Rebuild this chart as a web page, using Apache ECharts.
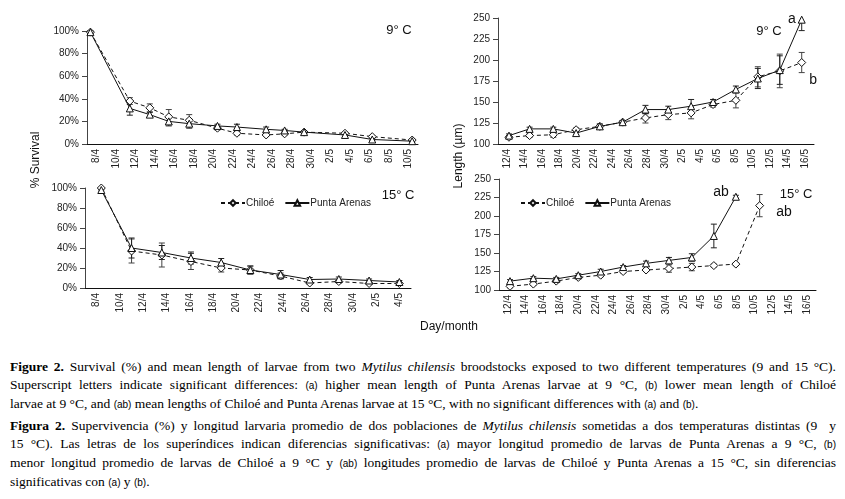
<!DOCTYPE html>
<html><head><meta charset="utf-8">
<script src="https://cdn.jsdelivr.net/npm/echarts@6/dist/echarts.min.js"></script>
<style>
html,body{margin:0;padding:0;background:#fff;width:845px;height:499px;overflow:hidden}
#chart{position:absolute;left:0;top:0;width:845px;height:345px}
#cap{position:absolute;left:10px;top:358px;width:826px;font-family:"Liberation Serif","Times New Roman",serif;font-size:13.5px;line-height:18px;color:#000}
.l{white-space:nowrap;text-align:justify;text-align-last:justify}
.last{white-space:nowrap;text-align:left}
.gap{height:3px}
.s{font-family:"Liberation Sans",Arial,sans-serif;font-size:10px}
</style></head>
<body>
<div id="chart"></div>
<div id="cap">
<div class="l"><b>Figure 2.</b> Survival (%) and mean length of larvae from two <i>Mytilus chilensis</i> broodstocks exposed to two different temperatures (9 and 15 °C).</div>
<div class="l">Superscript letters indicate significant differences: <span class="s">(a)</span> higher mean length of Punta Arenas larvae at 9 °C, <span class="s">(b)</span> lower mean length of Chiloé</div>
<div class="last">larvae at 9 °C, and <span class="s">(ab)</span> mean lengths of Chiloé and Punta Arenas larvae at 15 °C, with no significant differences with <span class="s">(a)</span> and <span class="s">(b)</span>.</div>
<div class="gap"></div>
<div class="l"><b>Figura 2.</b> Supervivencia (%) y longitud larvaria promedio de dos poblaciones de <i>Mytilus chilensis</i> sometidas a dos temperaturas distintas (9&nbsp; y</div>
<div class="l">15 °C). Las letras de los superíndices indican diferencias significativas: <span class="s">(a)</span> mayor longitud promedio de larvas de Punta Arenas a 9 °C, <span class="s">(b)</span></div>
<div class="l">menor longitud promedio de larvas de Chiloé a 9 °C y <span class="s">(ab)</span> longitudes promedio de larvas de Chiloé y Punta Arenas a 15 °C, sin diferencias</div>
<div class="last">significativas con <span class="s">(a)</span> y <span class="s">(b)</span>.</div>
</div>
<script>
// ---------- tick labels ----------
const surv9Labels = ['8/4','10/4','12/4','14/4','16/4','18/4','20/4','22/4','24/4','26/4','28/4','30/4','2/5','4/5','6/5','8/5','10/5'];
const surv15Labels = ['8/4','10/4','12/4','14/4','16/4','18/4','20/4','22/4','24/4','26/4','28/4','30/4','2/5','4/5'];
const lenLabels = ['12/4','14/4','16/4','18/4','20/4','22/4','24/4','26/4','28/4','30/4','2/5','4/5','6/5','8/5','10/5','12/5','14/5','16/5'];

// ---------- Survival 9 °C (x = days since 8/4) ----------
const surv9X = [0.35, 4.4, 6.45, 8.4, 10.5, 13.4, 15.4, 18.4, 20.3, 22.3, 26.5, 29.3, 33.4];
const surv9Chiloe = [99, 38, 32, 24, 21, 14, 9.5, 8, 9, 10.5, 9.5, 6.5, 3.5];
const surv9ChiloeErr = [1, 3, 3.5, 6.5, 5, 1.5, 1.5, 1, 1, 1, 1, 1, 1];
const surv9Punta = [99, 31.5, 26, 20, 18, 16, 15, 13, 12, 10.5, 8, 4, 2.5];
const surv9PuntaErr = [1, 6, 2, 4, 4, 1.5, 2.5, 2, 1, 1, 1.5, 1, 1];

// ---------- Survival 15 °C ----------
const surv15X = [1.4, 4.0, 6.6, 9.1, 11.7, 14.2, 16.8, 19.3, 21.8, 24.4, 27.0];
const surv15Chiloe = [100, 37, 33, 26.5, 20, 18, 12, 5, 6.5, 4.5, 4.5];
const surv15ChiloeErr = [1, 12, 12, 8, 4, 4, 3, 1.5, 1.5, 1, 1];
const surv15Punta = [98, 40, 35.5, 30, 25.5, 18, 13.5, 8.5, 9, 7.5, 6];
const surv15PuntaErr = [1, 10, 7, 6, 4, 4, 4, 2, 2, 1.5, 1.5];

// ---------- Length 9 °C (x = days since 12/4) ----------
const len9X = [1.25, 3.6, 6.3, 8.9, 11.6, 14.2, 16.8, 19.4, 22.0, 24.5, 27.1, 29.6, 32.1, 34.6];
const len9Chiloe = [108, 110, 111, 117, 121, 126, 131, 135, 137, 147, 152, 180, 187, 197];
const len9ChiloeErr = [2, 2, 3, 2, 2, 2, 6, 6, 7, 3, 9, 12, 20, 12];
const len9Punta = [110, 118, 118, 113, 121, 126, 141, 141, 145, 150, 165, 178, 188, 248];
const len9PuntaErr = [2, 2, 2, 2, 3, 2, 5, 4, 8, 3, 4, 12, 17, 13];

// ---------- Length 15 °C ----------
const len15ChiloeX = [1.25, 3.9, 6.5, 9.0, 11.55, 14.1, 16.7, 19.3, 21.9, 24.4, 26.9, 29.6];
const len15Chiloe = [105, 108, 112, 117, 120, 125, 127, 129, 131, 133, 135, 214];
const len15ChiloeErr = [2, 2, 2, 2, 2, 2, 2, 5, 5, 2, 2, 15];
const len15PuntaX = [1.25, 3.9, 6.5, 9.0, 11.55, 14.1, 16.7, 19.3, 21.9, 24.4, 26.9];
const len15Punta = [112, 116, 115, 120, 125, 131, 136, 140, 144, 173, 226];
const len15PuntaErr = [2, 2, 2, 2, 3, 2, 3, 4, 5, 16, 2];

const FONT = '"Liberation Sans", Arial, sans-serif';
const INK = '#111';

const grids = [
  {left: 87, top: 31, width: 331, height: 113},
  {left: 85, top: 188, width: 326, height: 100},
  {left: 498, top: 18, width: 316, height: 126},
  {left: 499, top: 179, width: 317, height: 111}
];
const xInfo = [
  {labels: surv9Labels, days: 34},
  {labels: surv15Labels, days: 28},
  {labels: lenLabels, days: 36},
  {labels: lenLabels, days: 36}
];
const yInfo = [
  {min: 0, max: 100, interval: 20, fmt: '{value}%'},
  {min: 0, max: 100, interval: 20, fmt: '{value}%'},
  {min: 100, max: 250, interval: 25, fmt: '{value}'},
  {min: 100, max: 250, interval: 25, fmt: '{value}'}
];

const xAxis = [], yAxis = [];
xInfo.forEach((xi, i) => {
  xAxis.push({
    type: 'category', gridIndex: i, data: xi.labels, boundaryGap: true,
    axisLine: {lineStyle: {color: INK, width: 1}},
    axisTick: {interval: 0, length: 4, alignWithLabel: false, lineStyle: {color: INK}},
    axisLabel: {interval: 0, rotate: 90, fontSize: 10, fontFamily: FONT, color: '#222', margin: 5}
  });
  xAxis.push({type: 'value', gridIndex: i, min: 0, max: xi.days, show: false});
});
yInfo.forEach((yi, i) => {
  yAxis.push({
    type: 'value', gridIndex: i, min: yi.min, max: yi.max, interval: yi.interval,
    axisLine: {show: true, lineStyle: {color: '#444'}},
    axisTick: {show: true, length: 5, lineStyle: {color: '#444'}},
    splitLine: {show: false},
    axisLabel: {formatter: yi.fmt, fontSize: 10, fontFamily: FONT, color: '#222', margin: 8}
  });
});

function errRender(params, api) {
  const x = api.value(0), lo = api.value(1), hi = api.value(2);
  const p1 = api.coord([x, hi]), p2 = api.coord([x, lo]);
  const cs = params.coordSys;
  const top = cs.y, bottom = cs.y + cs.height;
  const y1 = Math.max(p1[1], top), y2 = Math.min(p2[1], bottom);
  const w = 3;
  const style = {stroke: api.visual('color'), lineWidth: 1};
  const kids = [{type: 'line', shape: {x1: p1[0], y1: y1, x2: p2[0], y2: y2}, style: style}];
  if (p1[1] >= top) kids.push({type: 'line', shape: {x1: p1[0] - w, y1: y1, x2: p1[0] + w, y2: y1}, style: style});
  if (p2[1] <= bottom) kids.push({type: 'line', shape: {x1: p2[0] - w, y1: y2, x2: p2[0] + w, y2: y2}, style: style});
  return {type: 'group', children: kids};
}

const series = [];
function addPanel(i, cx, cy, ce, px, py, pe, labels) {
  labels = labels || {};
  const xi = 2 * i + 1;
  series.push({
    type: 'custom', name: 'errC' + i, xAxisIndex: xi, yAxisIndex: i, z: 1,
    renderItem: errRender, itemStyle: {color: '#444'},
    encode: {x: 0, y: [1, 2]}, silent: true,
    data: cx.map((x, k) => [x, cy[k] - ce[k], cy[k] + ce[k]])
  });
  series.push({
    type: 'custom', name: 'errP' + i, xAxisIndex: xi, yAxisIndex: i, z: 1,
    renderItem: errRender, itemStyle: {color: '#222'},
    encode: {x: 0, y: [1, 2]}, silent: true,
    data: px.map((x, k) => [x, py[k] - pe[k], py[k] + pe[k]])
  });
  series.push({
    type: 'line', name: 'Chiloé', xAxisIndex: xi, yAxisIndex: i, z: 3,
    symbol: 'diamond', symbolSize: 8, showAllSymbol: true,
    lineStyle: {color: INK, width: 1, type: [4, 3]},
    itemStyle: {color: '#fff', borderColor: INK, borderWidth: 1},
    data: cx.map((x, k) => {
      const d = {value: [x, cy[k]]};
      if (labels.c && k === cx.length - 1) d.label = labels.c;
      return d;
    })
  });
  series.push({
    type: 'line', name: 'Punta Arenas', xAxisIndex: xi, yAxisIndex: i, z: 4,
    symbol: 'triangle', symbolSize: 7, showAllSymbol: true,
    lineStyle: {color: INK, width: 1},
    itemStyle: {color: '#fff', borderColor: INK, borderWidth: 1},
    data: px.map((x, k) => {
      const d = {value: [x, py[k]]};
      if (labels.p && k === px.length - 1) d.label = labels.p;
      return d;
    })
  });
}
const letter = (text, pos, dist, off) => ({show: true, formatter: text, position: pos, distance: dist, offset: off,
  fontSize: 14, fontFamily: FONT, color: '#111'});

addPanel(0, surv9X, surv9Chiloe, surv9ChiloeErr, surv9X, surv9Punta, surv9PuntaErr);
addPanel(1, surv15X, surv15Chiloe, surv15ChiloeErr, surv15X, surv15Punta, surv15PuntaErr);
addPanel(2, len9X, len9Chiloe, len9ChiloeErr, len9X, len9Punta, len9PuntaErr,
  {p: letter('a', 'left', 2, [0, -1]), c: letter('b', 'right', 3, [0, 18])});
addPanel(3, len15ChiloeX, len15Chiloe, len15ChiloeErr, len15PuntaX, len15Punta, len15PuntaErr,
  {p: letter('ab', 'left', 3, [0, -5]), c: letter('ab', 'right', 12, [0, 7])});

const legendBase = {data: ['Chiloé', 'Punta Arenas'], orient: 'horizontal', itemWidth: 24, itemHeight: 7, itemGap: 10,
  textStyle: {fontSize: 10, fontFamily: FONT, color: '#222', padding: [0, 0, 0, -4]}, selectedMode: false, padding: 0};

const txt = (t, x, y, size, rot) => ({type: 'text', x: x, y: y, rotation: rot || 0,
  style: {text: t, fontSize: size, fontFamily: FONT, fill: '#111', textAlign: 'center', textVerticalAlign: 'middle'}});

const chart = echarts.init(document.getElementById('chart'), null, {renderer: 'canvas'});
chart.setOption({
  animation: false,
  grid: grids,
  xAxis: xAxis,
  yAxis: yAxis,
  legend: [
    Object.assign({left: 220, top: 198}, legendBase),
    Object.assign({left: 520, top: 198}, legendBase)
  ],
  series: series,
  graphic: [
    txt('9° C', 399, 30, 13),
    txt('15° C', 398, 195, 13),
    txt('9° C', 769, 31, 13),
    txt('15° C', 796, 194, 13),
    txt('% Survival', 36, 160, 12, Math.PI / 2),
    txt('Length (µm)', 459, 156, 12, Math.PI / 2),
    txt('Day/month', 449, 327, 12)
  ]
});
</script>
</body></html>
